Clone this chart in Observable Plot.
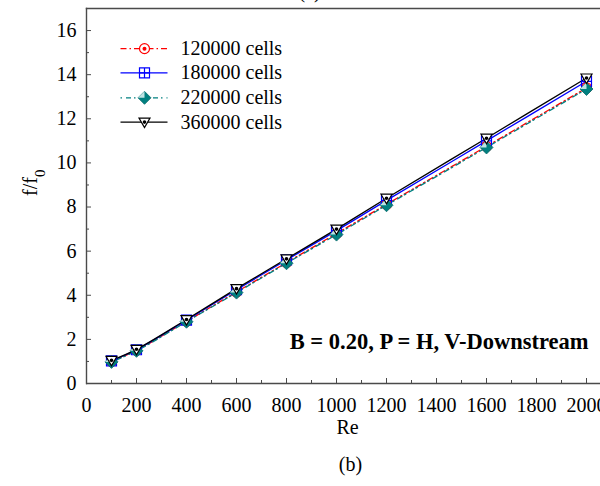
<!DOCTYPE html>
<html><head><meta charset="utf-8">
<script src="https://cdn.jsdelivr.net/npm/d3@7"></script>
<script src="https://cdn.jsdelivr.net/npm/@observablehq/plot@0.6"></script>
<style>body{margin:0;background:#fff;} svg{display:block;}</style>
</head><body><div id="chart"></div>
<script>
// ---- data ----
const re = [100, 200, 400, 600, 800, 1000, 1200, 1600, 2000];
const f120 = [1.00, 1.50, 2.82, 4.15, 5.48, 6.80, 8.12, 10.75, 13.40];
const f180 = [1.03, 1.53, 2.87, 4.25, 5.60, 6.93, 8.30, 11.00, 13.70];
const f220 = [0.98, 1.48, 2.80, 4.12, 5.45, 6.75, 8.08, 10.70, 13.35];
const f360 = [1.05, 1.55, 2.90, 4.30, 5.65, 7.00, 8.40, 11.12, 13.85];
const seriesNames = ["120000 cells", "180000 cells", "220000 cells", "360000 cells"];
const xMajor = [0, 200, 400, 600, 800, 1000, 1200, 1400, 1600, 1800, 2000];
const xMinor = [100, 300, 500, 700, 900, 1100, 1300, 1500, 1700, 1900];
const yMajor = [0, 2, 4, 6, 8, 10, 12, 14, 16];
const yMinor = [1, 3, 5, 7, 9, 11, 13, 15];
const annotation = "B = 0.20, P = H, V-Downstream";

const series = [f120, f180, f220, f360];
const rows = series.flatMap((vals, i) => vals.map((v, j) => ({re: re[j], f: v, s: seriesNames[i]})));
const bySeries = name => rows.filter(d => d.s === name);

// ---- symbols ----
const symSquarePlus = {draw(ctx, size) {const s = Math.sqrt(size / Math.PI);
  ctx.rect(-s, -s, 2 * s, 2 * s); ctx.moveTo(-s, 0); ctx.lineTo(s, 0); ctx.moveTo(0, -s); ctx.lineTo(0, s);}};
const symTriDown = {draw(ctx, size) {const s = Math.sqrt(size / Math.PI);
  ctx.moveTo(-s * 1.1, -s * 0.8); ctx.lineTo(s * 1.1, -s * 0.8); ctx.lineTo(0, s * 1.1); ctx.closePath();}};
const symDiamond = {draw(ctx, size) {const s = Math.sqrt(size / Math.PI);
  ctx.moveTo(0, -s); ctx.lineTo(s, 0); ctx.lineTo(0, s); ctx.lineTo(-s, 0); ctx.closePath();}};
const symDiamondHi = {draw(ctx, size) {const s = Math.sqrt(size / Math.PI);
  ctx.moveTo(-s, 0); ctx.lineTo(0, -s); ctx.lineTo(0, 0); ctx.closePath();}};

const styles = [
  {color: "#ff0000", dash: "6,3,1.5,3"},
  {color: "#0000ff", dash: null},
  {color: "#008080", dash: "1.5,4,5,3"},
  {color: "#000000", dash: null}
];

function markerMarks(data, i, extra = {}) {
  const c = styles[i].color;
  const o = {x: "re", y: "f", ...extra};
  if (i === 0) return [
    Plot.dot(data, {...o, r: 5, stroke: c, fill: "white", strokeWidth: 1.2}),
    Plot.dot(data, {...o, r: 2, fill: c})
  ];
  if (i === 1) return [
    Plot.dot(data, {...o, r: 5, symbol: symSquarePlus, stroke: c, fill: "none", strokeWidth: 1.2})
  ];
  if (i === 2) return [
    Plot.dot(data, {...o, r: 6.5, symbol: symDiamond, fill: c, stroke: "#0a6b6b", strokeWidth: 0.8}),
    Plot.dot(data, {...o, r: 6.5, symbol: symDiamondHi, fill: "#bfe3e3"})
  ];
  return [
    Plot.dot(data, {...o, r: 5, symbol: symTriDown, stroke: c, fill: "white", strokeWidth: 1.2}),
    Plot.dot(data, {...o, r: 1.8, fill: c})
  ];
}

// legend placed in data units
const legX0 = 136, legXm = 232, legX1 = 324, legXt = 376;
const legY = [15.18, 14.08, 12.95, 11.85];
const legend = seriesNames.map((s, i) => ({s, y: legY[i]}));

const gridColor = "#4a4a4a";
const fmt = d => String(d);
const marks = [
  Plot.ruleY([0], {stroke: gridColor, strokeWidth: 1.4}),
  Plot.frame({anchor: "left", stroke: gridColor, strokeWidth: 1.4}),
  Plot.frame({anchor: "top", stroke: gridColor, strokeWidth: 1.4}),
  Plot.axisX({ticks: xMajor, tickSize: -5, tickFormat: () => "", stroke: gridColor, label: null}),
  Plot.axisX({ticks: xMinor, tickSize: -3, tickFormat: () => "", stroke: gridColor, label: null}),
  Plot.axisX({ticks: xMajor, tickSize: 0, tickPadding: 14, tickFormat: fmt, label: null, fontSize: 20}),
  Plot.axisY({ticks: yMajor, tickSize: -5, tickFormat: () => "", stroke: gridColor, label: null}),
  Plot.axisY({ticks: yMinor, tickSize: -3, tickFormat: () => "", stroke: gridColor, label: null}),
  Plot.axisY({ticks: yMajor, tickSize: 0, tickPadding: 10, tickFormat: fmt, label: null, fontSize: 20}),
];
seriesNames.forEach((name, i) => {
  marks.push(Plot.line(bySeries(name), {x: "re", y: "f", stroke: styles[i].color, strokeWidth: 1.3,
    strokeDasharray: styles[i].dash, curve: "catmull-rom"}));
});
seriesNames.forEach((name, i) => { marks.push(...markerMarks(bySeries(name), i)); });
legend.forEach((d, i) => {
  marks.push(Plot.link([d], {x1: legX0, x2: legX1, y1: "y", y2: "y", stroke: styles[i].color,
    strokeWidth: 1.3, strokeDasharray: styles[i].dash}));
  marks.push(...markerMarks([{re: legXm, f: d.y}], i));
  marks.push(Plot.text([d], {x: legXt, y: "y", text: "s", textAnchor: "start", fontSize: 20}));
});
marks.push(
  Plot.text([annotation], {frameAnchor: "bottom-right", dx: -12, dy: -35, fontSize: 22.5, fontWeight: "bold", textAnchor: "end"}),
  Plot.text(["Re"], {frameAnchor: "bottom", dx: 4, dy: 50, fontSize: 20}),
  Plot.text(["(b)"], {frameAnchor: "bottom", dx: 7, dy: 87, fontSize: 20}),
  Plot.text(["(a)"], {frameAnchor: "top", dx: -34, dy: -25, fontSize: 20}),
  Plot.text(["f/f0"], {frameAnchor: "left", dx: -56, dy: 0, rotate: -90, fontSize: 20})
);

const chart = Plot.plot({
  width: 600, height: 486,
  marginLeft: 86, marginRight: 0, marginTop: 8, marginBottom: 103,
  x: {domain: [0, 2056], axis: null},
  y: {domain: [0, 17], axis: null},
  style: {fontFamily: "'Liberation Serif', 'Times New Roman', serif", color: "black", background: "white", overflow: "visible"},
  marks
});
document.getElementById("chart").appendChild(chart);
d3.select(chart).selectAll("text").filter(function() { return this.textContent === "f/f0"; })
  .each(function() {
    const t = d3.select(this);
    t.text("f/f");
    t.append("tspan").attr("baseline-shift", "sub").attr("font-size", 15).text("0");
  });
</script>
</body></html>
